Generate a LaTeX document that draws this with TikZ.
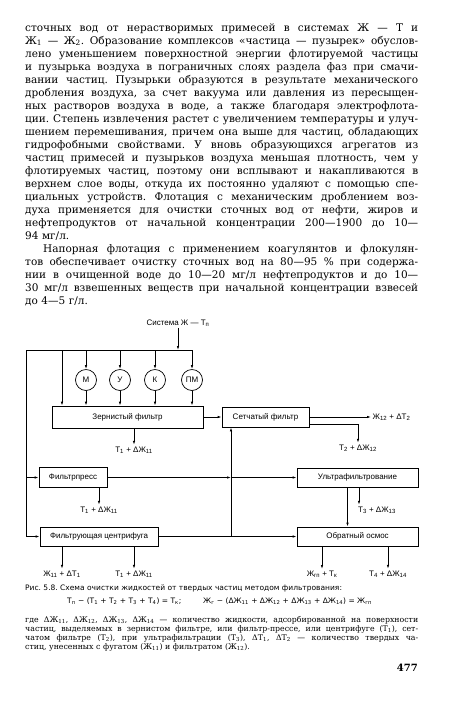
\documentclass[tikz,border=0pt]{standalone}
\usepackage{fontspec}
\setmainfont{DejaVu Serif}
\newfontfamily\diagfont{Liberation Sans}
\newfontfamily\capfont{DejaVu Sans}
\usetikzlibrary{positioning,arrows.meta}
\frenchspacing
\newlength\colw
\setlength\colw{393pt}
\newcommand\jline[1]{\makebox[\colw][s]{\spaceskip=0pt\xspaceskip=0pt\strut#1}}
\newcommand\sbs[1]{\textsubscript{#1}}

\begin{document}
\begin{tikzpicture}[x=1pt,y=-1pt,
 para/.style={anchor=north west,inner sep=0pt,text width=\colw,align=left,font=\fontsize{10.5}{13}\selectfont},
 note/.style={anchor=north west,inner sep=0pt,text width=\colw,align=left,font=\fontsize{7.8}{9}\selectfont},
 capl/.style={anchor=west,inner sep=0pt,font=\capfont\fontsize{7.5}{9}\selectfont},
 blk/.style={draw,line width=.7pt,minimum height=20pt,inner sep=2pt,font=\diagfont\fontsize{8}{9}\selectfont},
 rg/.style={draw,circle,line width=.7pt,minimum size=21pt,inner sep=0pt,font=\diagfont\fontsize{8}{9}\selectfont},
 lbl/.style={inner sep=1.5pt,font=\diagfont\fontsize{8}{9}\selectfont},
 flow/.style={-{Latex[length=4pt,width=2.4pt]},line width=.7pt},
 wire/.style={line width=.7pt}]
\path[use as bounding box,fill=white] (0,0) rectangle (450,705);
% text above the figure
\node[para] (txtA) at (25,22) {%
\jline{сточных вод от нерастворимых примесей в системах Ж — Т и}\\
\jline{Ж\sbs{1} — Ж\sbs{2}. Образование комплексов «частица — пузырек» обуслов-}\\
\jline{лено уменьшением поверхностной энергии флотируемой частицы}\\
\jline{и пузырька воздуха в пограничных слоях раздела фаз при смачи-}\\
\jline{вании частиц. Пузырьки образуются в результате механического}\\
\jline{дробления воздуха, за счет вакуума или давления из пересыщен-}\\
\jline{ных растворов воздуха в воде, а также благодаря электрофлота-}\\
\jline{ции. Степень извлечения растет с увеличением температуры и улуч-}\\
\jline{шением перемешивания, причем она выше для частиц, обладающих}\\
\jline{гидрофобными свойствами. У вновь образующихся агрегатов из}\\
\jline{частиц примесей и пузырьков воздуха меньшая плотность, чем у}\\
\jline{флотируемых частиц, поэтому они всплывают и накапливаются в}\\
\jline{верхнем слое воды, откуда их постоянно удаляют с помощью спе-}\\
\jline{циальных устройств. Флотация с механическим дроблением воз-}\\
\jline{духа применяется для очистки сточных вод от нефти, жиров и}\\
\jline{нефтепродуктов от начальной концентрации 200—1900 до 10—}\\
\strut 94 мг/л.};
\node[para] (txtB) at (25,243) {%
\jline{\hspace*{18pt}Напорная флотация с применением коагулянтов и флокулян-}\\
\jline{тов обеспечивает очистку сточных вод на 80—95 \% при содержа-}\\
\jline{нии в очищенной воде до 10—20 мг/л нефтепродуктов и до 10—}\\
\jline{30 мг/л взвешенных веществ при начальной концентрации взвесей}\\
\strut до 4—5 г/л.};
% scheme
\node[lbl] (sys) at (178,323) {Система Ж — Т\sbs{п}};
\coordinate (busL) at (26,350);
\coordinate (busR) at (192,350);
\coordinate (byp) at (62,350);
\node[blk,minimum width=151pt,minimum height=22pt] (zf) at (127.5,417) {Зернистый фильтр};
\node[blk,minimum width=87pt] (sf) at (265.5,417) {Сетчатый фильтр};
\node[blk,minimum width=68pt] (fp) at (73,477.5) {Фильтрпресс};
\node[blk,minimum width=118pt,minimum height=19pt] (cf) at (99,536.5) {Фильтрующая центрифуга};
\node[blk,minimum width=121pt,minimum height=19pt] (uf) at (357.5,477.5) {Ультрафильтрование};
\node[blk,minimum width=121pt,minimum height=19pt] (ro) at (357.5,536.5) {Обратный осмос};
\coordinate (jA) at (231,477.5);
\coordinate (jB) at (231,536.5);
\draw[wire] (busL) -- (busR);
\draw[flow] (sys) -- (sys |- busL);
\draw[flow] (busL) |- (fp.west);
\draw[flow] (busL) |- (cf.west);
\draw[flow] (byp) -- (byp |- zf.north);
\foreach \n/\x/\t in {rM/86/М,rU/120/У,rK/155/К,rPM/192/ПМ}{
  \node[rg] (\n) at (\x,380) {\t};
  \draw[flow] (\n |- busL) -- (\n);
  \draw[flow] (\n) -- (\n |- zf.north);
}
% outputs
\node[lbl] (zfT) at (134,450) {Т\sbs{1} + ΔЖ\sbs{11}};
\node[lbl,anchor=west] (sfZ) at (371,417) {Ж\sbs{12} + ΔТ\sbs{2}};
\node[lbl] (sfT) at (358,448) {Т\sbs{2} + ΔЖ\sbs{12}};
\node[lbl] (fpT) at (99,510) {Т\sbs{1} + ΔЖ\sbs{11}};
\node[lbl] (ufT) at (377,510) {Т\sbs{3} + ΔЖ\sbs{13}};
\node[lbl] (cfZ) at (62,574) {Ж\sbs{11} + ΔТ\sbs{1}};
\node[lbl] (cfT) at (134,574) {Т\sbs{1} + ΔЖ\sbs{11}};
\node[lbl] (roZ) at (322,574) {Ж\sbs{гп} + Т\sbs{к}};
\node[lbl] (roT) at (388,574) {Т\sbs{4} + ΔЖ\sbs{14}};
\draw[flow] (zf) -- (sf);
\draw[flow] (sf) -- (sfZ);
\draw[flow] ([yshift=-7pt]sf.east) -| (sfT);
\draw[flow] (zf.south -| zfT) -- (zfT);
\draw[flow] (fp.south -| fpT) -- (fpT);
\draw[flow] (fp) -- (jA);
\draw[flow] (jA) -- (uf);
\draw[wire] (cf) -- (jB);
\draw[flow] (jB) -- (ro);
\draw[flow] (jB) -- (jB |- sf.south);
\draw[flow] ([xshift=-10pt]uf.south) -- ([xshift=-10pt]ro.north);
\draw[flow] ([xshift=1.5pt]uf.south) -- ([xshift=1.5pt]uf.south |- ufT.north);
\draw[flow] (cf.south -| cfZ) -- (cfZ);
\draw[flow] (cf.south -| cfT) -- (cfT);
\draw[flow] (ro.south -| roZ) -- (roZ);
\draw[flow] (ro.south -| roT) -- (roT);
% caption
\node[capl] (cap) at (25,588) {Рис. 5.8. Схема очистки жидкостей от твердых частиц методом фильтрования:};
\node[capl] (eqT) at (67,601) {Т\sbs{п} − (Т\sbs{1} + Т\sbs{2} + Т\sbs{3} + Т\sbs{4}) = Т\sbs{к};};
\node[capl] (eqZ) at (203,601) {Ж\sbs{г} − (ΔЖ\sbs{11} + ΔЖ\sbs{12} + ΔЖ\sbs{13} + ΔЖ\sbs{14}) = Ж\sbs{гп}};
\node[note] (legend) at (25,616) {%
\jline{где ΔЖ\sbs{11}, ΔЖ\sbs{12}, ΔЖ\sbs{13}, ΔЖ\sbs{14} — количество жидкости, адсорбированной на поверхности}\\
\jline{частиц, выделяемых в зернистом фильтре, или фильтр-прессе, или центрифуге (Т\sbs{1}), сет-}\\
\jline{чатом фильтре (Т\sbs{2}), при ультрафильтрации (Т\sbs{3}), ΔТ\sbs{1}, ΔТ\sbs{2} — количество твердых ча-}\\
\strut стиц, унесенных с фугатом (Ж\sbs{11}) и фильтратом (Ж\sbs{12}).};
\node[anchor=east,inner sep=0pt,font=\fontsize{10}{12}\selectfont\bfseries] (page) at (418,668) {477};
\end{tikzpicture}
\end{document}
